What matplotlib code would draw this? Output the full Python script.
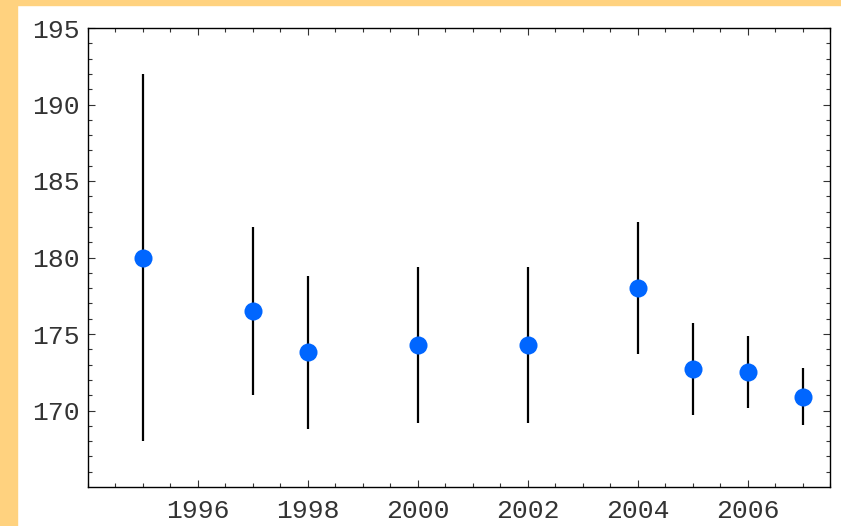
#!/usr/bin/env python

# Yearly estimates with error bars

import numpy as np
import matplotlib
matplotlib.use('Agg')
import matplotlib.pyplot as plt
from matplotlib.patches import Rectangle
from matplotlib.ticker import MultipleLocator, FixedLocator

# Data
years = [1995, 1997, 1998, 2000, 2002, 2004, 2005, 2006, 2007]
values = [180.0, 176.5, 173.8, 174.3, 174.3, 178.0, 172.7, 172.5, 170.9]
errors = [12.0, 5.5, 5.0, 5.1, 5.1, 4.3, 3.0, 2.35, 1.85]

# Figure
fig = plt.figure(figsize=(8.41, 5.26), dpi=100)
fig.patch.set_facecolor('white')

# Orange frame bands (top and left)
fig.patches.append(Rectangle((0, 1 - 5/526), 1, 5/526, transform=fig.transFigure,
                             color='#FFD27F', zorder=0))
fig.patches.append(Rectangle((0, 0), 17/841, 1, transform=fig.transFigure,
                             color='#FFD27F', zorder=0))

ax = fig.add_axes([88/841, 1 - 487/526, (830 - 88)/841, (487 - 28)/526])

# Error bars and points
ax.errorbar(years, values, yerr=errors, fmt='none', ecolor='black',
            elinewidth=1.6, capsize=0, zorder=2)
ax.plot(years, values, 'o', color='#0066FF', markersize=13, markeredgewidth=0, zorder=3)

# Limits and ticks
ax.set_xlim(1994, 2007.5)
ax.set_ylim(165, 195)
ax.xaxis.set_major_locator(FixedLocator([1996, 1998, 2000, 2002, 2004, 2006]))
ax.xaxis.set_minor_locator(MultipleLocator(0.5))
ax.yaxis.set_major_locator(FixedLocator([170, 175, 180, 185, 190, 195]))
ax.yaxis.set_minor_locator(FixedLocator([v for v in range(166, 195) if v % 5 != 0]))

ax.tick_params(which='both', direction='in', top=True, right=True,
               width=0.8, color='#333333')
ax.tick_params(which='major', length=5, labelsize=19, pad=6,
               labelcolor='#333333')
ax.tick_params(which='minor', length=3)
ax.tick_params(axis='x', which='major', pad=9)

for lab in ax.get_xticklabels() + ax.get_yticklabels():
    lab.set_family(['Liberation Mono', 'DejaVu Sans Mono'])

for s in ax.spines.values():
    s.set_linewidth(1.0)
    s.set_color('black')

fig.savefig('out.png', dpi=100)
